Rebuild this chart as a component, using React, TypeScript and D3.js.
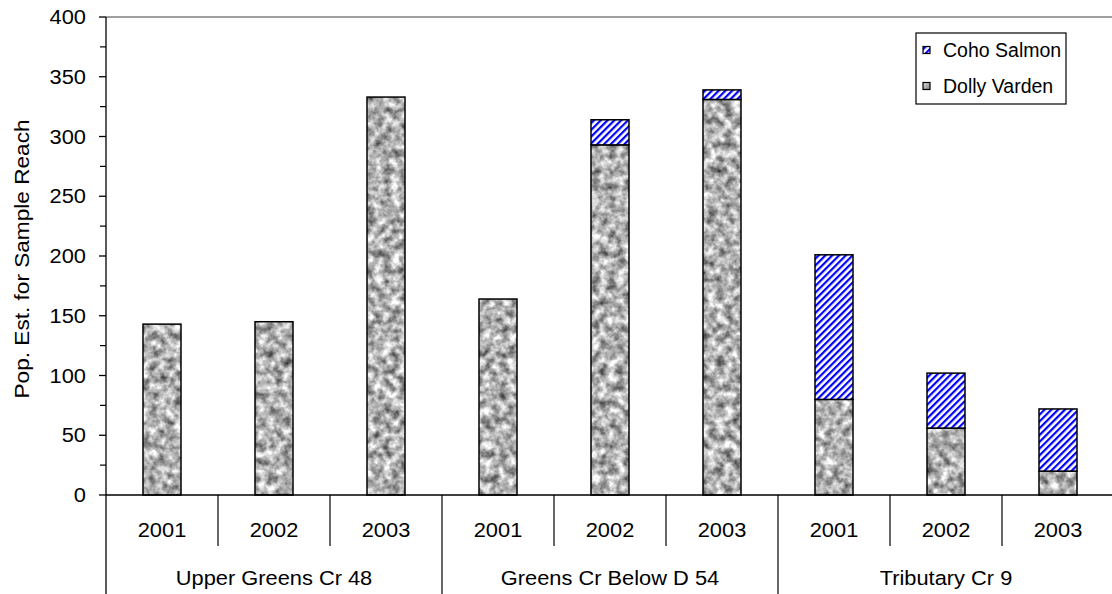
import React from "react";
import * as d3 from "d3";

const groups = ["Upper Greens Cr 48", "Greens Cr Below D 54", "Tributary Cr 9"];
const years = ["2001", "2002", "2003"];
const dollyVarden = [143, 145, 333, 164, 293, 331, 80, 56, 20];
const cohoSalmon = [0, 0, 0, 0, 21, 8, 121, 46, 52];
const yTicks = [0, 50, 100, 150, 200, 250, 300, 350, 400];
const minorTicks = [25, 75, 125, 175, 225, 275, 325, 375];
const seriesNames = ["Coho Salmon", "Dolly Varden"];

const W = 1112;
const H = 594;
const left = 106;
const right = 1114;
const top = 17;
const bottom = 495;
const FONT = "'Liberation Sans', Arial, sans-serif";
const FS = 19.5;

function T({ x, y, children, anchor = "middle", rotate = 0, sx = 1.12 }: any) {
  return (
    <text
      transform={`translate(${x},${y}) rotate(${rotate}) scale(${sx},1)`}
      textAnchor={anchor}
      dominantBaseline="central"
      fontFamily={FONT}
      fontSize={FS}
      fill="#000"
    >
      {children}
    </text>
  );
}

export default function App() {
  const cats = d3.range(dollyVarden.length);
  const x = d3
    .scaleBand<number>()
    .domain(cats)
    .range([left, right])
    .paddingInner(0.6607)
    .paddingOuter(0.33035);
  const step = x.step();
  const y = d3.scaleLinear().domain([0, 400]).range([bottom, top]);

  return (
    <svg
      width={W}
      height={H}
      style={{ position: "absolute", left: 0, top: 0, background: "#fff" }}
    >
      <defs>
        <filter
          id="granite"
          x="0%"
          y="0%"
          width="100%"
          height="100%"
          colorInterpolationFilters="sRGB"
        >
          <feTurbulence type="fractalNoise" baseFrequency="0.12" numOctaves={3} seed={7} result="n" />
          <feColorMatrix
            in="n"
            type="matrix"
            values="1.15 0 0 0 0.12  1.15 0 0 0 0.12  1.15 0 0 0 0.12  0 0 0 0 1"
            result="g"
          />
          <feComposite in="g" in2="SourceGraphic" operator="in" />
        </filter>
        <pattern
          id="hatch"
          patternUnits="userSpaceOnUse"
          width={4.8}
          height={4.8}
          patternTransform="rotate(45)"
        >
          <rect x={0} y={0} width={4.8} height={4.8} fill="#fff" />
          <rect x={0} y={0} width={2.2} height={4.8} fill="#0000ff" />
        </pattern>
        <linearGradient id="swatchGrad" x1="0" y1="0" x2="1" y2="1">
          <stop offset="0" stopColor="#e0e0e0" />
          <stop offset="1" stopColor="#808080" />
        </linearGradient>
      </defs>

      {/* top border */}
      <line x1={left} x2={W} y1={top} y2={top} stroke="#808080" strokeWidth={1.3} />

      {/* bars */}
      {cats.map((i) => {
        const bx = x(i)!;
        const bw = x.bandwidth();
        const dv = dollyVarden[i];
        const cs = cohoSalmon[i];
        return (
          <g key={i}>
            <rect x={bx} y={y(dv)} width={bw} height={y(0) - y(dv)} fill="#000" filter="url(#granite)" />
            <rect x={bx} y={y(dv)} width={bw} height={y(0) - y(dv)} fill="none" stroke="#000" strokeWidth={1.5} />
            {cs > 0 && (
              <rect
                x={bx}
                y={y(dv + cs)}
                width={bw}
                height={y(dv) - y(dv + cs)}
                fill="url(#hatch)"
                stroke="#000"
                strokeWidth={1.5}
              />
            )}
          </g>
        );
      })}

      {/* y axis */}
      <line x1={left} x2={left} y1={top} y2={H} stroke="#000" strokeWidth={1.3} />
      {yTicks.map((t) => (
        <g key={t}>
          <line x1={left - 7} x2={left} y1={y(t)} y2={y(t)} stroke="#000" strokeWidth={1.3} />
          <T x={left - 20} y={y(t)} anchor="end">
            {t}
          </T>
        </g>
      ))}
      {minorTicks.map((t) => (
        <line key={t} x1={left - 6} x2={left} y1={y(t)} y2={y(t)} stroke="#000" strokeWidth={1.2} />
      ))}
      <T x={22} y={259} rotate={-90} sx={1.16}>
        Pop. Est. for Sample Reach
      </T>

      {/* x axis */}
      <line x1={left} x2={W} y1={bottom} y2={bottom} stroke="#000" strokeWidth={1.3} />
      {cats.map((i) => {
        const cx = x(i)! + x.bandwidth() / 2;
        const bx = left + step * (i + 1);
        const isGroupEnd = (i + 1) % years.length === 0;
        return (
          <g key={i}>
            <T x={cx} y={530}>
              {years[i % years.length]}
            </T>
            <line
              x1={bx}
              x2={bx}
              y1={bottom}
              y2={isGroupEnd ? H : 546}
              stroke="#000"
              strokeWidth={1.2}
            />
          </g>
        );
      })}
      {groups.map((g, gi) => (
        <T key={g} x={left + step * (gi * 3 + 1.5)} y={578}>
          {g}
        </T>
      ))}

      {/* legend */}
      <rect x={916} y={33} width={150} height={71} fill="#fff" stroke="#000" strokeWidth={1.2} />
      {seriesNames.map((s, i) => {
        const cy = 50 + i * 36;
        return (
          <g key={s}>
            {i === 0 ? (
              <rect x={923} y={cy - 3.5} width={7} height={7} fill="url(#hatch)" stroke="#000" strokeWidth={1.2} />
            ) : (
              <rect x={923} y={cy - 3.5} width={7} height={7} fill="url(#swatchGrad)" stroke="#000" strokeWidth={1.2} />
            )}
            <T x={943} y={cy} anchor="start" sx={1}>
              {s}
            </T>
          </g>
        );
      })}
    </svg>
  );
}
